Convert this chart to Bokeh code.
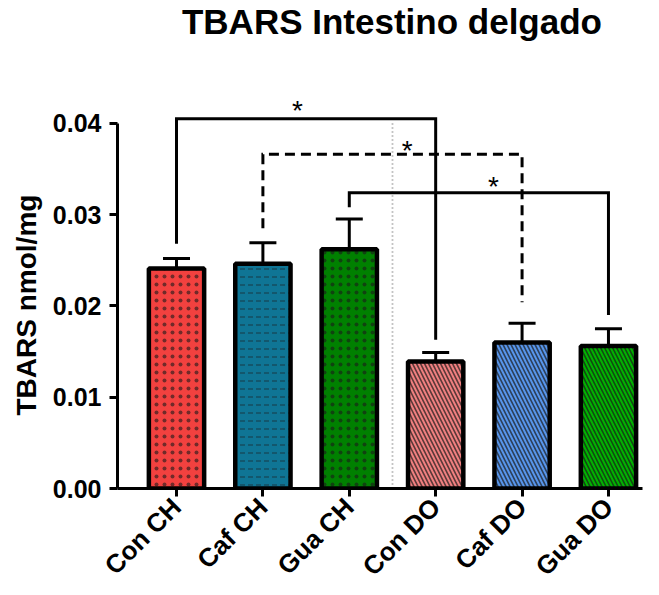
from math import pi
from bokeh.plotting import figure
from bokeh.models import (Range1d, FixedTicker, Whisker, TeeHead, Label, Title,
                          ColumnDataSource, PrintfTickFormatter, CDSView, BooleanFilter)
from bokeh.embed import file_html
from bokeh.resources import INLINE
from bokeh.core.properties import value

# ---------------- data ----------------
groups = ["Con CH", "Caf CH", "Gua CH", "Con DO", "Caf DO", "Gua DO"]
means = [0.0241, 0.0246, 0.0262, 0.0139, 0.0160, 0.0156]
err_top = [0.0252, 0.0269, 0.0295, 0.0149, 0.0181, 0.0175]
bar_colors = ["#F2413F", "#0F7595", "#008000", "#F07F7F", "#5795EB", "#00B300"]
bar_patterns = ["dot", "horizontal_dash", "dot",
                "left_diagonal_line", "left_diagonal_line", "left_diagonal_line"]
y_ticks = [0.0, 0.01, 0.02, 0.03, 0.04]

bracket_left = [0, 1, 2]
bracket_right = [3, 4, 5]
bracket_top = [0.0405, 0.0366, 0.0324]
bracket_left_end = [0.0268, 0.0285, 0.0308]
bracket_right_end = [0.0163, 0.0204, 0.0190]
bracket_dashed = [False, True, False]
star_x = [1.40, 2.67, 3.67]
star_y = [0.0422, 0.0378, 0.0338]

title_text = "TBARS Intestino delgado"
y_label_text = "TBARS nmol/mg"

FONT = "Liberation Sans"
positions = list(range(len(groups)))

src = ColumnDataSource(dict(x=positions, top=means, err=err_top,
                            color=bar_colors, pattern=bar_patterns))
is_ch = [g.endswith("CH") for g in groups]

p = figure(width=659, height=595, title=None,
           x_range=Range1d(-0.683, 5.394), y_range=Range1d(0, 0.05344),
           output_backend="svg", toolbar_location=None,
           min_border_left=117, min_border_right=17,
           min_border_top=0, min_border_bottom=106)
p.outline_line_color = None
p.xgrid.visible = False
p.ygrid.visible = False
p.background_fill_color = "white"
p.border_fill_color = "white"

# separator between groups
sep = (positions[2] + positions[3]) / 2
p.line([sep, sep], [y_ticks[0], y_ticks[-1]], line_color="#8a8a8a",
       line_width=1.8, line_dash="1 3")

# bars: dotted (CH) and striped (DO)
bar_kw = dict(x="x", top="top", bottom=0, width=0.64, source=src,
              fill_color="color", line_color="black", line_width=4.5,
              hatch_pattern="pattern", hatch_color="#1a1a1a")
p.vbar(view=CDSView(filter=BooleanFilter(is_ch)),
       hatch_alpha=0.6, hatch_scale=8, hatch_weight=1.1, **bar_kw)
p.vbar(view=CDSView(filter=BooleanFilter([not c for c in is_ch])),
       hatch_alpha=0.7, hatch_scale=8, hatch_weight=1.6, **bar_kw)

# error bars (upper only)
wh = Whisker(base="x", lower="top", upper="err", source=src,
             upper_head=TeeHead(size=27, line_width=3, line_color="black"),
             lower_head=None, line_width=3, line_color="black")
p.add_layout(wh)

# significance brackets
for l, r, t, le, re_, d in zip(bracket_left, bracket_right, bracket_top,
                               bracket_left_end, bracket_right_end, bracket_dashed):
    xs = [positions[l], positions[l], positions[r], positions[r]]
    ys = [le, t, t, re_]
    p.line(xs, ys, line_color="black", line_width=3, line_join="miter",
           line_dash="10 6" if d else "solid")

p.text(x=star_x, y=star_y, text=["*"] * len(star_x),
       text_font=value(FONT), text_font_size="28px",
       text_align="center", text_baseline="middle", y_offset=7,
       text_color="black")

# axes
for ax in (p.xaxis, p.yaxis):
    ax.axis_line_width = 3
    ax.axis_line_color = "black"
    ax.major_tick_line_width = 3
    ax.major_tick_line_color = "black"
    ax.major_tick_out = 8
    ax.major_tick_in = 0
    ax.minor_tick_line_color = None
    ax.major_label_text_font = FONT
    ax.major_label_text_font_style = "bold"
    ax.major_label_text_color = "black"

p.xaxis.ticker = FixedTicker(ticks=positions)
p.xaxis.major_label_overrides = {i: g for i, g in zip(positions, groups)}
p.xaxis.major_label_orientation = pi / 4
p.xaxis.major_label_standoff = 6
p.xaxis.major_label_text_font_size = "26px"

p.yaxis.ticker = FixedTicker(ticks=y_ticks)
p.yaxis.formatter = PrintfTickFormatter(format="%.2f")
p.yaxis.bounds = (y_ticks[0], y_ticks[-1])
p.yaxis.major_label_standoff = 8
p.yaxis.major_label_text_font_size = "25px"

# y label as a side title
p.add_layout(Title(text=y_label_text, align="left", offset=73, standoff=16,
                   text_font=FONT, text_font_size="28px",
                   text_font_style="bold", text_color="black"), "left")

# title
p.add_layout(Label(x=2.494, y=0.05115, text=title_text, text_align="center",
                   text_baseline="alphabetic", text_font=FONT,
                   text_font_size="35px", text_font_style="bold",
                   text_color="black"))

open("out.html", "w").write(file_html(p, INLINE))
